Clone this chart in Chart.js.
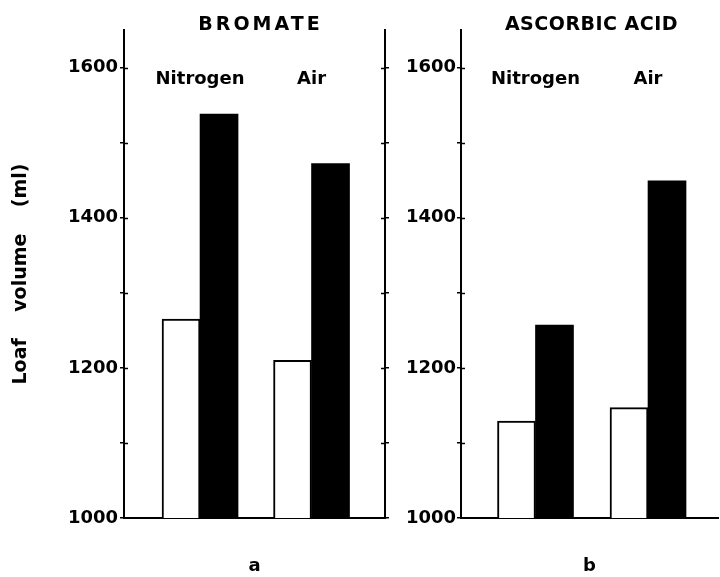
<!DOCTYPE html>
<html>
<head>
<meta charset="utf-8">
<script src="https://cdn.jsdelivr.net/npm/chart.js@4"></script>
<style>
  body { margin: 0; background: #fff; }
  #wrap { position: relative; width: 720px; height: 577px; overflow: hidden; }
  canvas { position: absolute; top: 0; }
  #panelA { left: 0; }
  #panelB { left: 390px; }
</style>
</head>
<body>
<div id="wrap">
  <canvas id="panelA" width="390" height="577"></canvas>
  <canvas id="panelB" width="330" height="577"></canvas>
</div>
<script>
var atmospheres = ['Nitrogen', 'Air'];
var panelTitles = ['BROMATE', 'ASCORBIC ACID'];
var panelLetters = ['a', 'b'];
var bromateOpen = [1265, 1210];
var bromateSolid = [1538, 1472];
var ascorbicOpen = [1129, 1147];
var ascorbicSolid = [1257, 1449];
var yLabelled = [1000, 1200, 1400, 1600];
var yMinor = [1100, 1300, 1500];

var font = "'DejaVu Sans', sans-serif";

function points(values) {
    return values.map(function (v, i) { return { x: i, y: v }; });
}

function setTicks(scale) {
    scale.ticks = yLabelled.concat(yMinor)
        .sort(function (a, b) { return a - b; })
        .map(function (v) { return { value: v }; });
}

// titles, category names and the inner half of each axis cross
var panelText = {
    id: 'panelText',
    afterDraw: function (chart) {
        var o = chart.options.plugins.panelText;
        var ctx = chart.ctx, area = chart.chartArea;
        var x = chart.scales.x, y = chart.scales.y;
        ctx.save();
        ctx.fillStyle = '#000';
        ctx.textAlign = 'center';
        ctx.font = 'bold 19px ' + font;
        ctx.letterSpacing = o.spacing + 'px';
        ctx.textBaseline = 'middle';
        ctx.fillText(o.title, (area.left + area.right) / 2 + o.shift, 25);
        ctx.letterSpacing = '0px';
        ctx.font = 'bold 18px ' + font;
        ctx.textBaseline = 'alphabetic';
        atmospheres.forEach(function (name, i) {
            ctx.fillText(name, x.getPixelForValue(i), 84);
        });
        ctx.strokeStyle = '#000';
        ctx.lineWidth = 1.5;
        y.ticks.forEach(function (t) {
            if (t.value === 1000) return;
            var py = Math.round(y.getPixelForValue(t.value)) + 0.5;
            ctx.beginPath();
            ctx.moveTo(area.left, py);
            ctx.lineTo(area.left + 4, py);
            if (chart.scales.y2) {
                ctx.moveTo(area.right - 4, py);
                ctx.lineTo(area.right, py);
            }
            ctx.stroke();
        });
        ctx.restore();
    }
};

function makePanel(id, k, openVals, solidVals, xMin, xMax, yWidth, labelPad, rightPad, withRight) {
    var scales = {
        x: {
            type: 'linear',
            offset: false,
            bounds: 'data',
            min: xMin,
            max: xMax,
            ticks: { display: false },
            grid: { drawOnChartArea: false, drawTicks: false },
            border: { display: true, color: '#000', width: 2 },
            title: {
                display: true,
                text: panelLetters[k],
                color: '#000',
                font: { family: font, size: 18, weight: 'bold' },
                padding: { top: 0, bottom: 0 }
            },
            afterFit: function (s) { s.height = 59; }
        },
        y: {
            min: 1000,
            max: 1650,
            afterBuildTicks: setTicks,
            ticks: {
                color: '#000',
                padding: labelPad,
                font: { family: font, size: 18, weight: 'bold' },
                callback: function (v) { return yLabelled.indexOf(v) >= 0 ? v : ''; }
            },
            grid: { drawOnChartArea: false, tickLength: 4, color: '#000', lineWidth: 1.5 },
            border: { display: true, color: '#000', width: 2 },
            title: {
                display: k === 0,
                text: 'Loaf    volume    (ml)',
                color: '#000',
                font: { family: font, size: 19, weight: 'bold' },
                padding: { top: 10, bottom: 0 }
            },
            afterFit: function (s) { s.width = yWidth; }
        }
    };
    if (withRight) {
        scales.y2 = {
            position: 'right',
            min: 1000,
            max: 1650,
            afterBuildTicks: setTicks,
            ticks: { display: false },
            grid: { drawOnChartArea: false, tickLength: 4, color: '#000', lineWidth: 1.5 },
            border: { display: true, color: '#000', width: 2 },
            afterFit: function (s) { s.width = 5; }
        };
    }
    return new Chart(document.getElementById(id), {
        type: 'bar',
        data: {
            datasets: [{
                label: 'Open',
                data: points(openVals),
                backgroundColor: '#fff',
                borderColor: '#000',
                borderWidth: 2,
                barThickness: 38
            }, {
                label: 'Solid',
                data: points(solidVals),
                backgroundColor: '#000',
                borderColor: '#000',
                borderWidth: 0,
                barThickness: 38
            }]
        },
        options: {
            responsive: false,
            animation: false,
            layout: { padding: { top: 30, right: rightPad, bottom: 0, left: 0 } },
            plugins: {
                legend: { display: false },
                tooltip: { enabled: false },
                panelText: { title: panelTitles[k], spacing: k === 0 ? 3 : 0.5, shift: k === 0 ? 6 : 2 }
            },
            scales: scales
        },
        plugins: [panelText]
    });
}

makePanel('panelA', 0, bromateOpen, bromateSolid, -0.682, 1.659, 124, 2, 0, true);
makePanel('panelB', 1, ascorbicOpen, ascorbicSolid, -0.662, 1.622, 71, 1, 2, false);
</script>
</body>
</html>
